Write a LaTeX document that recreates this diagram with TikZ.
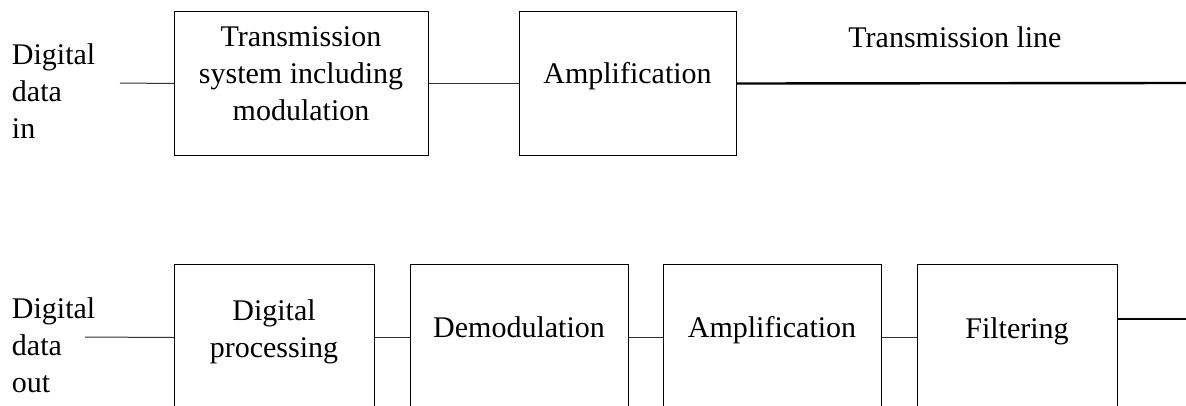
\documentclass[tikz,border=0pt]{standalone}
\usepackage{fontspec}
\setmainfont{Liberation Serif}
\usetikzlibrary{positioning}
\tikzset{
  blk/.style   = {draw=black, line width=1pt, inner sep=0pt, anchor=north west},
  lbl/.style   = {font=\fontsize{30}{37}\selectfont, inner sep=0pt, outer sep=0pt},
  wire/.style  = {draw=black!80, line width=1pt},
  trunk/.style = {draw=black, line width=2.4pt},
}
\begin{document}
\begin{tikzpicture}[x=1pt,y=-1pt]
\path[use as bounding box] (0,0) rectangle (1186,405);
\clip (0,0) rectangle (1186,405);

% ---- sending side -------------------------------------------------------
\node[blk, minimum width=254pt, minimum height=144pt] (txmod) at (174,11) {};
\node[blk, minimum width=217pt, minimum height=144pt] (txamp) at (519,11) {};

% multi-line labels sit on the baseline of their last line
\node[lbl, align=left, anchor=base west] (inlab) at (12,138.5) {Digital\\data\\in};
\node[lbl, align=center, anchor=base] (txmodtxt) at (301,120) {Transmission\\system including\\modulation};
\node[lbl, anchor=base] (txamptxt) at (627.5,83) {Amplification};
\node[lbl, anchor=base] (linelab) at (955,47) {Transmission line};

\coordinate (datain) at (120,83);
\coordinate (txend) at (1186,83);
\draw[wire] (datain) -- (txmod.west);
\draw[wire] (txmod.east) -- (txamp.west);
\draw[trunk] (txamp.east) -- (txend);

% ---- receiving side -----------------------------------------------------
\foreach \name/\x/\w in {dproc/174/200, demod/410/218, rxamp/663/218, filt/917/200} {
  \node[blk, minimum width=\w pt, minimum height=146pt] (\name) at (\x,264) {};
}

\node[lbl, align=left, anchor=base west] (outlab) at (12,392.5) {Digital\\data\\out};
\node[lbl, align=center, anchor=base] (dproctxt) at (274,357) {Digital\\processing};
\node[lbl, anchor=base] (demodtxt) at (519,337) {Demodulation};
\node[lbl, anchor=base] (rxamptxt) at (772,337) {Amplification};
\node[lbl, anchor=base] (filttxt) at (1017,338) {Filtering};

\coordinate (dataout) at (85,337);
\coordinate (rxin) at (1186,319);
\draw[wire] (dataout) -- (dproc.west);
\draw[wire] (dproc.east) -- (demod.west);
\draw[wire] (demod.east) -- (rxamp.west);
\draw[wire] (rxamp.east) -- (filt.west);
\draw[trunk] (filt.east |- rxin) -- (rxin);

\end{tikzpicture}
\end{document}
